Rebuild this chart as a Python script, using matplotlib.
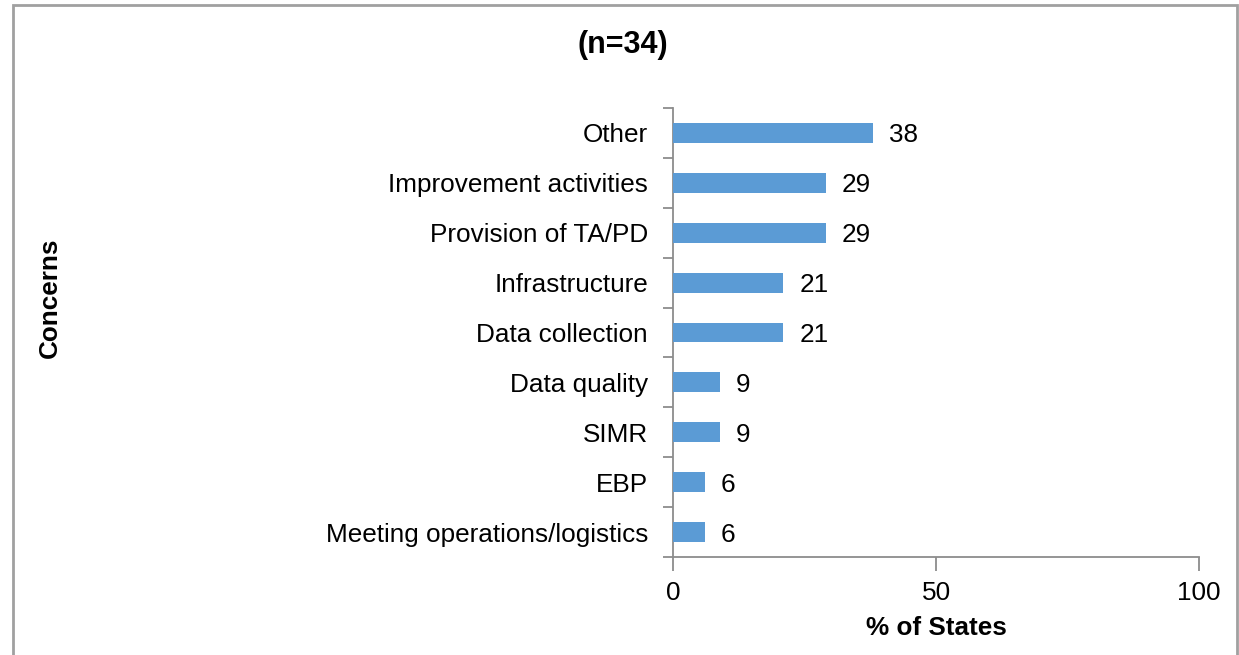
import matplotlib.pyplot as plt
import matplotlib.patches as patches
import numpy as np

plt.rcParams['font.family'] = ['Liberation Sans', 'DejaVu Sans']

# データ (上から順)
concerns = ["Other", "Improvement activities", "Provision of TA/PD",
            "Infrastructure", "Data collection", "Data quality",
            "SIMR", "EBP", "Meeting operations/logistics"]
pct_states = [38, 29, 29, 21, 21, 9, 9, 6, 6]
x_ticks = [0, 50, 100]

bar_color = "#5b9bd5"
axis_color = "#8c8c8c"
fs = 18.8

fig = plt.figure(figsize=(12.39, 6.55), dpi=100)
ax = fig.add_axes([0.5432, 0.1496, 0.4245, 0.6855])

n = len(concerns)
ypos = np.arange(n)[::-1]
ax.barh(ypos, pct_states, height=0.4, color=bar_color, zorder=3)

# 値ラベル
for y, v in zip(ypos, pct_states):
    ax.text(v + 3, y, str(v), va="center_baseline", ha="left", fontsize=fs)

ax.set_xlim(0, 100)
ax.set_ylim(-0.5, n - 0.5)
ax.set_xticks(x_ticks)
ax.set_yticks(ypos)
ax.set_yticklabels(concerns, fontsize=fs)
ax.tick_params(axis="y", length=0, pad=18)
ax.tick_params(axis="x", labelsize=fs, length=10, width=1.3,
               color=axis_color, pad=7)

# 区切りの目盛り
ax.set_yticks(np.arange(n + 1) - 0.5, minor=True)
ax.tick_params(axis="y", which="minor", length=7, width=1.3, color=axis_color)

for s in ["top", "right"]:
    ax.spines[s].set_visible(False)
for s in ["left", "bottom"]:
    ax.spines[s].set_color(axis_color)
    ax.spines[s].set_linewidth(1.3)

ax.set_xlabel("% of States", fontsize=fs, fontweight="bold", labelpad=8)
fig.text(0.040, 0.545, "Concerns", rotation=90, fontsize=fs,
         fontweight="bold", ha="center", va="center")
fig.text(0.503, 0.931, "(n=34)", fontsize=22, fontweight="bold",
         ha="center", va="center")

# 外枠
frame = patches.Rectangle((12.5 / 1239, -0.1), (1237 - 12.5) / 1239,
                          1.1 - 4.5 / 655, transform=fig.transFigure,
                          fill=False, edgecolor="#a0a0a0", linewidth=2)
fig.patches.append(frame)

fig.savefig("out.png", dpi=100)
